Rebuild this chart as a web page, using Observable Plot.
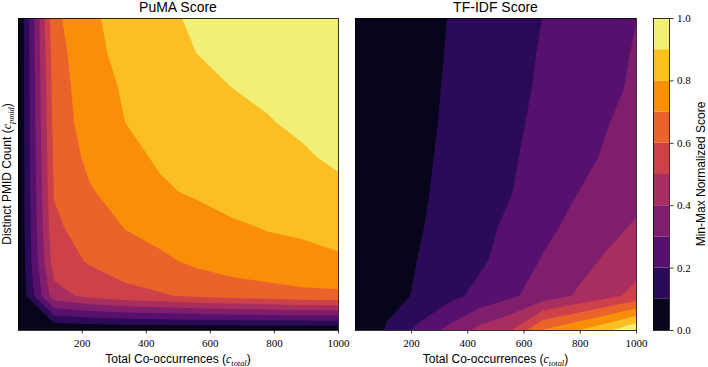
<!DOCTYPE html>
<html>
<head>
<meta charset="utf-8">
<script src="https://cdn.jsdelivr.net/npm/d3@7"></script>
<script src="https://cdn.jsdelivr.net/npm/@observablehq/plot@0.6"></script>
<style>
  html, body { margin: 0; padding: 0; background: #fff; }
  #fig { position: relative; width: 708px; height: 367px; overflow: hidden;
         font-family: "Liberation Sans", Arial, sans-serif; color: #000; }
  #fig svg { position: absolute; top: 0; background: transparent; }
  .lbl { position: absolute; white-space: nowrap; line-height: 1; }
  .title { font-size: 14px; transform: translate(-50%, -50%); }
  .xlabel { font-size: 12px; transform: translate(-50%, -50%); }
  .ylabel { font-size: 12px; transform: translate(-50%, -50%) rotate(-90deg); }
  .m { font-family: "Liberation Serif", serif; font-style: italic; }
  .m sub { font-size: 70%; vertical-align: -0.3em; line-height: 0; }
</style>
</head>
<body>
<div id="fig"></div>
<script>
// Sweep grid: total co-occurrences (columns) and distinct PMID count (rows)
const cTotal = [1, 112, 223, 334, 445, 556, 667, 778, 889, 1000];
const cPmid = [1, 12, 23, 34, 45, 56, 67, 78, 89, 100];

// Contour levels of the min-max normalized score
const levels = [0, 0.1, 0.2, 0.3, 0.4, 0.5, 0.6, 0.7, 0.8, 0.9, 1.0];
const xTicks = [200, 400, 600, 800, 1000];
const cbarTicks = [0, 0.2, 0.4, 0.6, 0.8, 1.0];

// PuMA score, one row per c_pmid value (lowest first), one entry per c_total value
const pumaScore = [
  [0, 0,     0,     0.01,  0.01,  0.01,  0.01,  0.01,  0.01,  0.01],
  [0, 0.46,  0.53,  0.57,  0.59,  0.62,  0.64,  0.655, 0.675, 0.68],
  [0, 0.55,  0.61,  0.65,  0.68,  0.72,  0.75,  0.77,  0.775, 0.785],
  [0, 0.585, 0.64,  0.705, 0.74,  0.765, 0.79,  0.805, 0.815, 0.84],
  [0, 0.605, 0.69,  0.75,  0.79,  0.81,  0.83,  0.845, 0.86,  0.88],
  [0, 0.62,  0.725, 0.78,  0.81,  0.835, 0.86,  0.875, 0.89,  0.915],
  [0, 0.635, 0.75,  0.80,  0.83,  0.86,  0.88,  0.895, 0.915, 0.94],
  [0, 0.645, 0.76,  0.81,  0.85,  0.88,  0.90,  0.915, 0.94,  0.965],
  [0, 0.66,  0.765, 0.835, 0.87,  0.90,  0.92,  0.94,  0.96,  0.985],
  [0, 0.68,  0.77,  0.865, 0.885, 0.91,  0.94,  0.96,  0.98,  1.0]
];

// TF-IDF score on the same grid
const tfidfScore = [
  [0, 0.11,  0.224, 0.33,  0.433, 0.503, 0.71,  0.79,  0.88,  1.0],
  [0, 0.07,  0.11,  0.17,  0.23,  0.285, 0.345, 0.405, 0.465, 0.53],
  [0, 0.05,  0.102, 0.144, 0.186, 0.243, 0.308, 0.36,  0.412, 0.46],
  [0, 0.045, 0.09,  0.14,  0.178, 0.217, 0.273, 0.323, 0.367, 0.412],
  [0, 0.04,  0.085, 0.125, 0.162, 0.198, 0.246, 0.294, 0.335, 0.37],
  [0, 0.04,  0.08,  0.12,  0.156, 0.191, 0.23,  0.269, 0.309, 0.35],
  [0, 0.04,  0.075, 0.114, 0.149, 0.184, 0.22,  0.257, 0.294, 0.333],
  [0, 0.04,  0.072, 0.11,  0.144, 0.178, 0.212, 0.246, 0.28,  0.313],
  [0, 0.04,  0.07,  0.106, 0.14,  0.173, 0.207, 0.24,  0.274, 0.307],
  [0, 0.04,  0.07,  0.102, 0.135, 0.168, 0.201, 0.234, 0.267, 0.299]
];

// Filled bands take the inferno colour at the middle of each level interval
const bandColors = levels.slice(0, -1).map((lo, i) => d3.interpolateInferno((lo + levels[i + 1]) / 2));
const color = {type: "threshold", domain: levels.slice(1, -1), range: bandColors};

const H = 348, MT = 18, MB = 18;
const fig = document.getElementById("fig");

function scorePanel(grid, {left, marginLeft, frameWidth, marginRight}) {
  const n = cTotal.length, m = cPmid.length;
  const dx = (cTotal[n - 1] - cTotal[0]) / (n - 1);
  const dy = (cPmid[m - 1] - cPmid[0]) / (m - 1);
  const svg = Plot.plot({
    width: marginLeft + frameWidth + marginRight,
    height: H, marginTop: MT, marginBottom: MB, marginLeft, marginRight,
    style: {fontFamily: "'Liberation Serif', serif", fontSize: "11px", background: "transparent"},
    x: {domain: [cTotal[0], cTotal[n - 1]]},
    y: {domain: [cPmid[0], cPmid[m - 1]], axis: null},
    color,
    marks: [
      // grid samples sit at cell centres, so the raster extends half a step past each edge
      Plot.contour(grid.flat(), {
        width: n, height: m,
        x1: cTotal[0] - dx / 2, x2: cTotal[n - 1] + dx / 2,
        y1: cPmid[0] - dy / 2, y2: cPmid[m - 1] + dy / 2,
        fill: Plot.identity, stroke: "none",
        thresholds: levels.slice(0, -1),
        clip: true
      }),
      Plot.frame({stroke: "#000", strokeWidth: 0.8}),
      Plot.axisX({ticks: xTicks, tickFormat: d3.format("d"), tickSize: 3.5, tickPadding: 5,
                  label: null, strokeWidth: 0.8})
    ]
  });
  svg.style.left = left + "px";
  fig.appendChild(svg);
}

scorePanel(pumaScore, {left: 0, marginLeft: 18, frameWidth: 320, marginRight: 14});
scorePanel(tfidfScore, {left: 353, marginLeft: 2, frameWidth: 281, marginRight: 14});

// Colour bar
const bands = levels.slice(0, -1).map((lo, i) => ({lo, hi: levels[i + 1]}));
const cbar = Plot.plot({
  width: 2 + 16 + 37, height: H, marginTop: MT, marginBottom: MB, marginLeft: 2, marginRight: 37,
  style: {fontFamily: "'Liberation Serif', serif", fontSize: "11px", background: "transparent"},
  y: {domain: [0, 1]},
  color,
  marks: [
    Plot.rect(bands, {y1: "lo", y2: "hi", fill: "lo"}),
    Plot.frame({stroke: "#000", strokeWidth: 0.8}),
    Plot.axisY({anchor: "right", ticks: cbarTicks, tickFormat: d3.format(".1f"),
                tickSize: 3.5, tickPadding: 4, label: null, strokeWidth: 0.8})
  ]
});
cbar.style.left = "651px";
fig.appendChild(cbar);

// Titles and axis labels
function label(cls, x, y, html) {
  const d = document.createElement("div");
  d.className = "lbl " + cls;
  d.style.left = x + "px";
  d.style.top = y + "px";
  d.innerHTML = html;
  fig.appendChild(d);
}
const totalLabel = 'Total Co-occurrences (<span class="m">c<sub>total</sub></span>)';
label("title", 178, 7, "PuMA Score");
label("title", 495.5, 7, "TF-IDF Score");
label("xlabel", 178, 359, totalLabel);
label("xlabel", 495.5, 359, totalLabel);
label("ylabel", 7, 174, 'Distinct PMID Count (<span class="m">c<sub>pmid</sub></span>)');
label("ylabel", 701, 174, "Min-Max Normalized Score");
</script>
</body>
</html>
